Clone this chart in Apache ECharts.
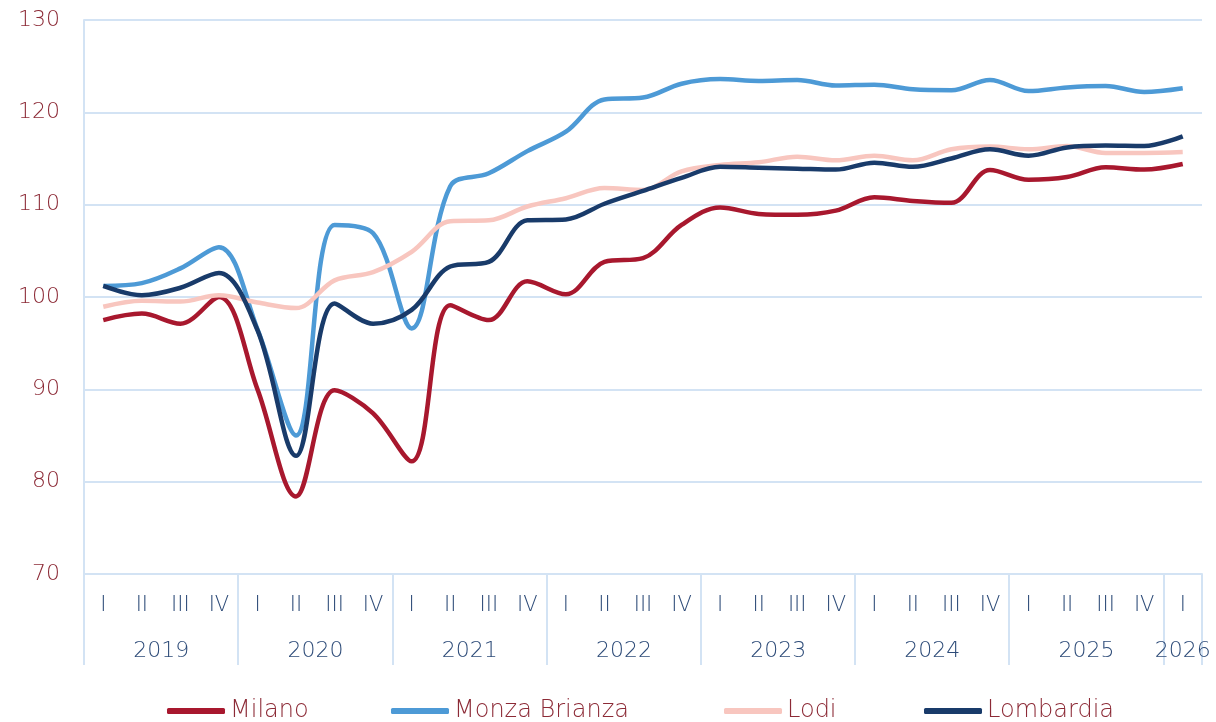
<!DOCTYPE html>
<html>
<head>
<meta charset="utf-8">
<title>Milano, Monza Brianza, Lodi, Lombardia</title>
<script src="https://cdn.jsdelivr.net/npm/echarts@6/dist/echarts.min.js"></script>
<style>
  html, body { margin: 0; padding: 0; background: #fff; }
  #chart { width: 1216px; height: 722px; }
</style>
</head>
<body>
<div id="chart"></div>
<script>
// trimestri e anni
const quarters = ["I", "II", "III", "IV", "I", "II", "III", "IV", "I", "II", "III", "IV",
  "I", "II", "III", "IV", "I", "II", "III", "IV", "I", "II", "III", "IV",
  "I", "II", "III", "IV", "I"];
const years = ["2019", "2020", "2021", "2022", "2023", "2024", "2025", "2026"];
const names = ["Milano", "Monza Brianza", "Lodi", "Lombardia"];

// valori
const milano = [97.5, 98.2, 97.1, 100.0, 90.0, 78.4, 89.9, 87.4, 82.2, 99.1, 97.5, 101.7,
  100.3, 103.8, 104.2, 107.8, 109.7, 109.0, 108.9, 109.35, 110.8, 110.4, 110.2, 113.75,
  112.7, 113.0, 114.05, 113.8, 114.4];
const monza = [101.2, 101.5, 103.1, 105.4, 96.5, 85.0, 107.8, 106.9, 96.6, 112.0, 113.4, 115.8,
  117.9, 121.4, 121.6, 123.1, 123.6, 123.4, 123.5, 122.9, 123.0, 122.5, 122.4, 123.5,
  122.3, 122.7, 122.85, 122.2, 122.6];
const lodi = [98.95, 99.6, 99.5, 100.2, 99.4, 98.8, 101.8, 102.7, 104.9, 108.2, 108.3, 109.8,
  110.7, 111.8, 111.6, 113.6, 114.3, 114.6, 115.2, 114.8, 115.3, 114.8, 116.0, 116.3,
  116.0, 116.35, 115.6, 115.6, 115.7];
const lombardia = [101.2, 100.2, 101.0, 102.6, 96.4, 82.8, 99.3, 97.1, 98.6, 103.3, 103.8, 108.3,
  108.4, 110.1, 111.5, 112.9, 114.1, 114.0, 113.9, 113.8, 114.55, 114.1, 115.0, 116.0,
  115.3, 116.2, 116.4, 116.35, 117.4];

const gridColor = "#d3e3f4";
const redText = "#8c2a36";
const navyText = "#2d4b78";
const font = "DejaVu Sans";
const weight = 200;

// indice della prima categoria di ogni anno
const yearStart = years.map((y, i) => i * 4);

const chart = echarts.init(document.getElementById("chart"), null, { renderer: "canvas" });

const lineSeries = (name, data, color) => ({
  name: name,
  type: "line",
  data: data,
  smooth: 0.35,
  symbol: "none",
  lineStyle: { width: 4.5, color: color },
  itemStyle: { color: color },
  emphasis: { disabled: true },
});

// una legenda per voce, per tenere le posizioni dell'originale
const legendLeft = [167, 391, 724, 924];
const legends = names.map((n, i) => ({
  left: legendLeft[i],
  top: 699,
  padding: 0,
  icon: "roundRect",
  itemWidth: 58,
  itemHeight: 6,
  textStyle: { color: redText, fontSize: 24, fontFamily: font, fontWeight: weight },
  data: [n],
}));

chart.setOption({
  animation: false,
  textStyle: { fontFamily: font },
  grid: { left: 84, right: 14, top: 20, bottom: 148, containLabel: false },
  legend: legends,
  xAxis: [
    {
      type: "category",
      position: "bottom",
      data: quarters,
      boundaryGap: true,
      axisLine: { onZero: false, lineStyle: { color: gridColor, width: 2 } },
      axisTick: {
        show: true,
        length: 91,
        interval: (index) => yearStart.indexOf(index) !== -1,
        lineStyle: { color: gridColor, width: 2 },
      },
      axisLabel: { interval: 0, margin: 21, color: navyText, fontSize: 21, fontFamily: font, fontWeight: weight },
    },
    {
      type: "category",
      position: "bottom",
      data: quarters,
      boundaryGap: true,
      axisLine: { show: false, onZero: false },
      axisTick: { show: false },
      axisLabel: {
        interval: 0,
        margin: 66,
        color: navyText,
        fontSize: 22,
        fontFamily: font,
        fontWeight: weight,
        formatter: (value, index) => {
          // anno intero: etichetta al centro dei 4 trimestri
          for (let i = 0; i < years.length; i++) {
            const start = yearStart[i];
            const count = Math.min(4, quarters.length - start);
            if (count === 4 && index === start + 1) return "{s|" + years[i] + "}";
            if (count === 1 && index === start) return "{n|" + years[i] + "}";
          }
          return "";
        },
        rich: {
          s: { padding: [0, 0, 0, 39], color: navyText, fontSize: 22, fontFamily: font, fontWeight: weight },
          n: { color: navyText, fontSize: 22, fontFamily: font, fontWeight: weight },
        },
      },
    },
  ],
  yAxis: {
    type: "value",
    min: 70,
    max: 130,
    interval: 10,
    axisLine: { show: true, lineStyle: { color: gridColor, width: 2 } },
    axisTick: { show: false },
    splitLine: { lineStyle: { color: gridColor, width: 2 } },
    axisLabel: { margin: 24, color: redText, fontSize: 22, fontFamily: font, fontWeight: weight },
  },
  series: [
    lineSeries("Milano", milano, "#a8182e"),
    lineSeries("Monza Brianza", monza, "#4d9ad6"),
    lineSeries("Lodi", lodi, "#f8c6bf"),
    lineSeries("Lombardia", lombardia, "#193b6a"),
  ],
});
</script>
</body>
</html>
